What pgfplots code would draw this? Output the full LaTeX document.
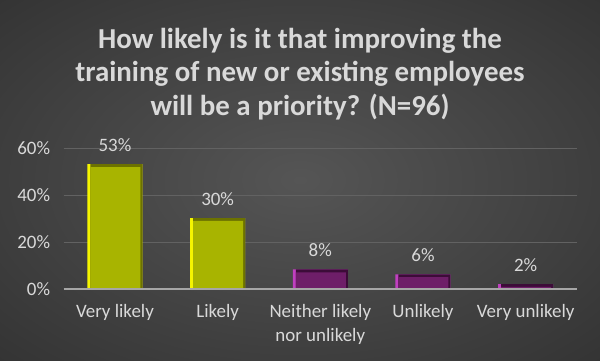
\documentclass[border=0pt]{standalone}
\usepackage{fontspec}
\setmainfont{Carlito}
\usepackage{pgfplots}
\pgfplotsset{compat=1.18}
\definecolor{bgin}{HTML}{555555}
\definecolor{bgout}{HTML}{222222}
\definecolor{txt}{HTML}{D9D9D9}
\definecolor{olivebar}{HTML}{A8B400}
\definecolor{olivebd}{HTML}{F5F500}
\definecolor{olivedk}{HTML}{6C7200}
\definecolor{purplebar}{HTML}{6E1E68}
\definecolor{purplebd}{HTML}{C040C0}
\definecolor{purpledk}{HTML}{3C0C38}
\definecolor{gridc}{HTML}{626262}
\definecolor{basec}{HTML}{A6A6A6}
\pgfdeclareradialshading{bg}{\pgfpoint{0bp}{0bp}}{color(0bp)=(bgin); color(55bp)=(bgout); color(100bp)=(bgout)}
\begin{document}
\begin{tikzpicture}[x=1bp,y=1bp]
\useasboundingbox (0,0) rectangle (600,360);
\shade[shading=bg] (0,0) rectangle (600,360);
\node[text=txt, font=\bfseries\fontsize{29}{33.5}\selectfont, align=center] at (300,286) {How likely is it that improving the\\training of new or existing employees\\will be a priority? (N=96)};
\begin{axis}[
  at={(63.6bp,71bp)}, anchor=south west, scale only axis,
  width=513.4bp, height=141bp,
  xmin=-0.5, xmax=4.5, ymin=0, ymax=60,
  ybar, bar width=55bp, bar shift=0pt,
  axis line style={draw=none},
  tick style={draw=none},
  /pgf/number format/assume math mode=true,
  ymajorgrids, grid style={gridc, line width=1bp},
  ytick={0,20,40,60},
  yticklabels={0\%,20\%,40\%,60\%},
  yticklabel style={text=txt, font=\fontsize{19}{23}\selectfont, xshift=-10bp},
  xtick={0,1,2,3,4},
  xticklabels={Very likely,Likely,{Neither likely\\nor unlikely},Unlikely,Very unlikely},
  xticklabel style={text=txt, font=\fontsize{19}{24}\selectfont, align=center, yshift=-8bp},
  every node near coord/.append style={text=txt, font=\fontsize{19}{23}\selectfont, anchor=base, yshift=13bp},
  clip=false,
]
% outer bars (bright left edge) with value labels
\addplot[fill=olivebd, draw=none, nodes near coords={\pgfmathprintnumber[fixed,precision=0,assume math mode=true]{\pgfplotspointmeta}\%}] coordinates {(0,53.1) (1,30.2)};
\addplot[fill=purplebd, draw=none, nodes near coords={\pgfmathprintnumber[fixed,precision=0,assume math mode=true]{\pgfplotspointmeta}\%}] coordinates {(2,8.3) (3,6.25) (4,2.08)};
% dark top/right edge
\addplot[fill=olivedk, draw=none, bar width=52bp, bar shift=1.5bp] coordinates {(0,53.1) (1,30.2)};
\addplot[fill=purpledk, draw=none, bar width=52bp, bar shift=1.5bp] coordinates {(2,8.3) (3,6.25) (4,2.08)};
% face
\addplot[fill=olivebar, draw=none, bar width=50bp, bar shift=0.5bp] coordinates {(0,51.9) (1,29.0)};
\addplot[fill=purplebar, draw=none, bar width=50bp, bar shift=0.5bp] coordinates {(2,7.1) (3,5.05) (4,0.9)};
\draw[basec, line width=1.6bp] (axis cs:-0.5,0) -- (axis cs:4.5,0);
\end{axis}
\end{tikzpicture}
\end{document}
